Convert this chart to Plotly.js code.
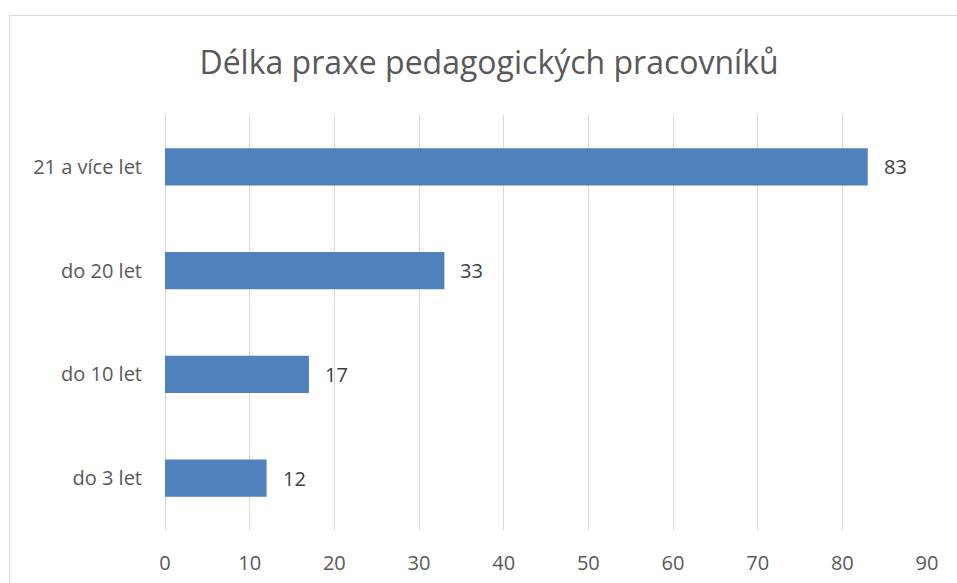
<!DOCTYPE html>
<html>
<head>
<meta charset="utf-8">
<script src="https://cdn.plot.ly/plotly-3.0.1.min.js"></script>
<style>
html,body{margin:0;padding:0;background:#fff;overflow:hidden;}
#frame{position:absolute;left:9px;top:15px;width:1100px;height:700px;border:1px solid #d9d9d9;box-sizing:border-box;}
#chart{position:absolute;left:0;top:0;width:957px;height:583px;}
</style>
</head>
<body>
<div id="frame"></div>
<div id="chart"></div>
<script>
var categories = ["do 3 let", "do 10 let", "do 20 let", "21 a více let"];
var values = [12, 17, 33, 83];
var tickVals = [0, 10, 20, 30, 40, 50, 60, 70, 80, 90];
var titleText = "Délka praxe pedagogických pracovníků";

var font = "'Open Sans', 'Segoe UI', sans-serif";

var trace = {
  type: "bar",
  orientation: "h",
  y: categories,
  x: values,
  marker: {color: "#4f81bd"},
  width: 0.357,
  hoverinfo: "none"
};

var annotations = values.map(function(v, i){
  return {x: v, y: categories[i], xref: "x", yref: "y", text: String(v),
    showarrow: false, xanchor: "left", xshift: 14,
    font: {family: font, size: 20, color: "#404040"}};
});

var layout = {
  width: 957, height: 583,
  margin: {l: 165, r: 29.5, t: 115, b: 53, pad: 0},
  paper_bgcolor: "rgba(0,0,0,0)",
  plot_bgcolor: "rgba(0,0,0,0)",
  title: {text: titleText, x: 0.511, xanchor: "center", y: 0.893, yanchor: "middle",
    font: {family: font, size: 32, color: "#595959"}},
  showlegend: false,
  xaxis: {range: [0, 90], tickvals: tickVals, showgrid: true, gridcolor: "#d9d9d9", gridwidth: 1,
    zeroline: true, zerolinecolor: "#d9d9d9", zerolinewidth: 1, showline: false, ticks: "",
    ticklabelstandoff: 19,
    tickfont: {family: font, size: 20, color: "#595959"}, fixedrange: true},
  yaxis: {type: "category", categoryorder: "array", categoryarray: categories,
    showgrid: false, zeroline: false, showline: false, ticks: "", ticklabelstandoff: 22,
    tickfont: {family: font, size: 20, color: "#595959"}, fixedrange: true},
  annotations: annotations
};

Plotly.newPlot("chart", [trace], layout, {displayModeBar: false, staticPlot: true});
</script>
</body>
</html>
